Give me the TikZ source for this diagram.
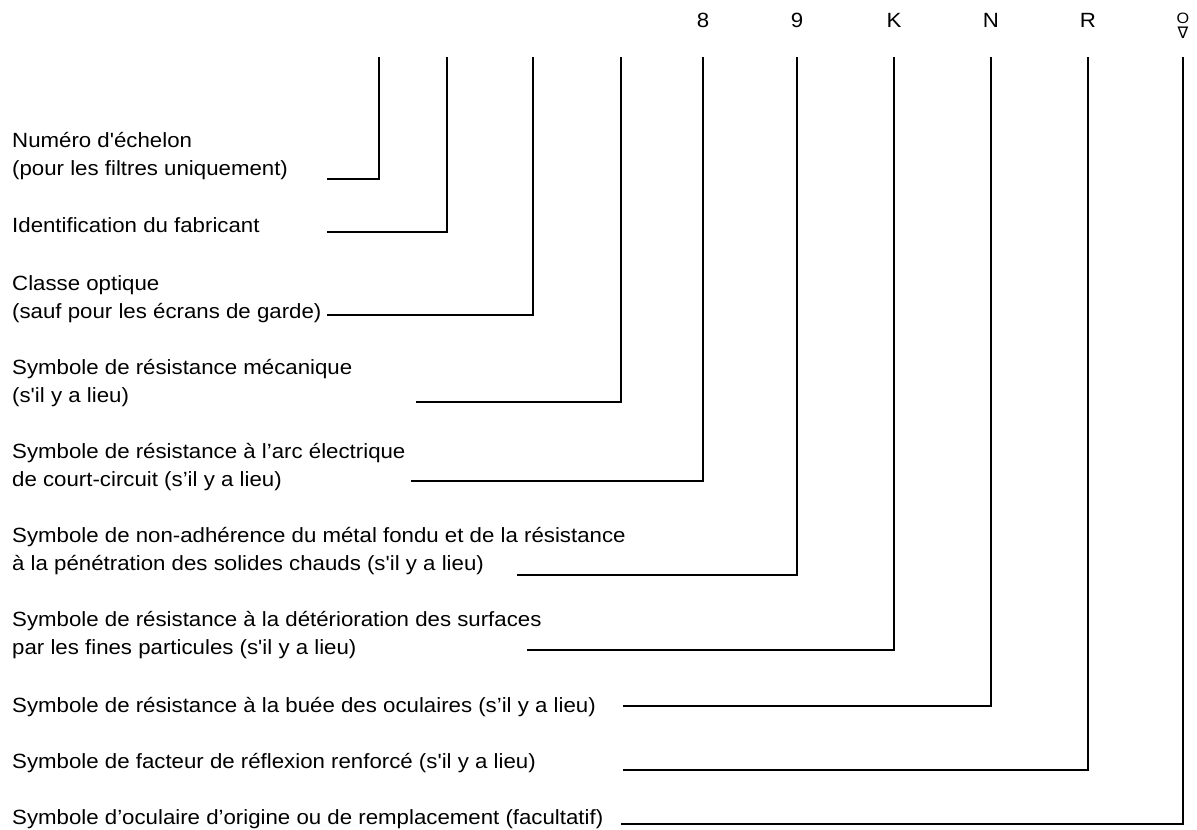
\documentclass[tikz,border=0pt]{standalone}
\usepackage{fontspec}
\usetikzlibrary{positioning}
\newfontfamily\labelfont[FakeStretch=1.08]{Liberation Sans}
\newfontfamily\nablafont{DejaVu Sans}
\tikzset{
  lbl/.style={font=\labelfont\fontsize{20.6}{28}\selectfont, align=left, anchor=base west, inner sep=0pt},
  sym/.style={font=\labelfont\fontsize{20.6}{28}\selectfont, anchor=base, inner sep=0pt},
  leader/.style={line width=1.1pt}
}
% label text (y of its last line), column top and the foot of its leader
\newcommand{\drawcallout}[6]{
  \node[lbl] (txt#1) at (12,#2) {#6};
  \coordinate (top#1) at (#3,57);
  \coordinate (foot#1) at (#4,#5);
  \draw[leader] (foot#1) -| (top#1);
}
\begin{document}
\begin{tikzpicture}[x=1pt,y=-1pt]
  \useasboundingbox (0,0) rectangle (1197,830);

  \drawcallout{1}{175}{379}{327}{179}{Numéro d'échelon\\(pour les filtres uniquement)}
  \drawcallout{2}{232}{447}{327}{232}{Identification du fabricant}
  \drawcallout{3}{318}{533}{327}{315}{Classe optique\\(sauf pour les écrans de garde)}
  \drawcallout{4}{402}{621}{416}{402}{Symbole de résistance mécanique\\(s'il y a lieu)}
  \drawcallout{5}{486}{703}{411}{481}{Symbole de résistance à l’arc électrique\\de court-circuit (s’il y a lieu)}
  \drawcallout{6}{570}{797}{517}{575}{Symbole de non-adhérence du métal fondu et de la résistance\\à la pénétration des solides chauds (s'il y a lieu)}
  \drawcallout{7}{654}{894}{527}{650}{Symbole de résistance à la détérioration des surfaces\\par les fines particules (s'il y a lieu)}
  \drawcallout{8}{712}{991}{623}{706}{Symbole de résistance à la buée des oculaires (s’il y a lieu)}
  \drawcallout{9}{768}{1088}{623}{770}{Symbole de facteur de réflexion renforcé (s'il y a lieu)}
  \drawcallout{10}{824}{1183}{621}{824}{Symbole d’oculaire d’origine ou de remplacement (facultatif)}

  % column heads
  \coordinate (headrow) at (0,27);
  \foreach \n/\s in {5/8,6/9,7/K,8/N,9/R}{
    \node[sym] (head\n) at (top\n |- headrow) {\s};
  }
  \node[sym, font=\labelfont\fontsize{15}{15}\selectfont] (head10) at ([yshift=4pt]top10 |- headrow) {O};
  \node[anchor=north, inner sep=0pt, font=\nablafont\fontsize{16}{16}\selectfont, below=3pt of head10] (nabla10) {∇};
\end{tikzpicture}
\end{document}
